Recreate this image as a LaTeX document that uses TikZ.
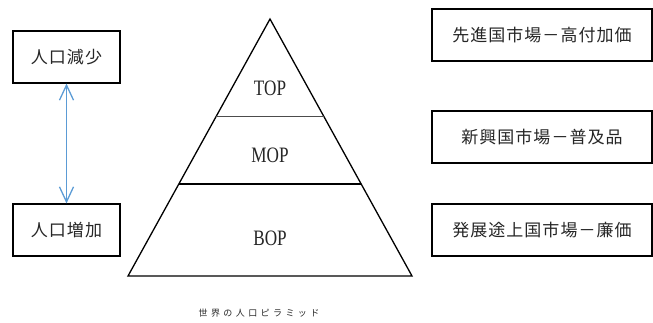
\documentclass[tikz,border=0pt]{standalone}
\usepackage{fontspec}
\usetikzlibrary{arrows.meta,calc}
\newfontfamily\cjk[LetterSpace=6]{Noto Sans CJK JP}
\newfontfamily\cjkcap[LetterSpace=38]{Noto Sans CJK JP}
\newfontfamily\condserif[FakeStretch=0.78]{Liberation Serif}
\definecolor{arrowblue}{HTML}{5B9BD5}
\definecolor{txt}{HTML}{262626}
\tikzset{
  box/.style={draw=black, line width=1.2pt, minimum height=52pt, inner sep=0pt, text=txt,
    font=\cjk\fontsize{17}{20}\selectfont},
  lbox/.style={box, minimum width=107pt},
  rbox/.style={box, minimum width=220pt},
  lvl/.style={font=\condserif\fontsize{22}{24}\selectfont, text=txt},
  pyr/.style={line width=1.3pt, line join=miter},
  sep/.style={line width=1.1pt},
  link/.style={arrowblue, line width=1.3pt, {Straight Barb[length=15pt,width=14pt,line width=1.3pt]}-{Straight Barb[length=15pt,width=14pt,line width=1.3pt]}},
  captext/.style={font=\cjkcap\fontsize{9}{10}\selectfont, text=txt}
}
\begin{document}
\begin{tikzpicture}[x=1pt,y=-1pt]
\useasboundingbox (0,0) rectangle (653,323);
% left boxes
\node[lbox] (dec) at (66.5,57) {人口減少};
\node[lbox] (inc) at (66.5,230) {人口増加};
\draw[link] (dec.south) -- (inc.north);
% pyramid
\coordinate (apex) at (270,19);
\coordinate (bl) at (128,276);
\coordinate (br) at (412,276);
\draw[pyr] (apex) -- (br) -- (bl) -- cycle;
\coordinate (l1) at ($(apex)!0.381!(bl)$);
\coordinate (r1) at ($(apex)!0.381!(br)$);
\coordinate (l2) at ($(apex)!0.642!(bl)$);
\coordinate (r2) at ($(apex)!0.642!(br)$);
\draw[sep, black!70] (l1) -- (r1);
\draw[sep] (l2) -- (r2);
\node[lvl] (top) at (270,88) {TOP};
\node[lvl] (mop) at (270,155) {MOP};
\node[lvl] (bop) at (270,238) {BOP};
% right boxes
\node[rbox] (adv) at (542,35) {先進国市場－高付加価};
\node[rbox] (emg) at (542,137) {新興国市場－普及品};
\node[rbox] (dev) at (542,230) {発展途上国市場－廉価};
% caption
\node[captext] (caption) at (259,313) {世界の人口ピラミッド};
\end{tikzpicture}
\end{document}
